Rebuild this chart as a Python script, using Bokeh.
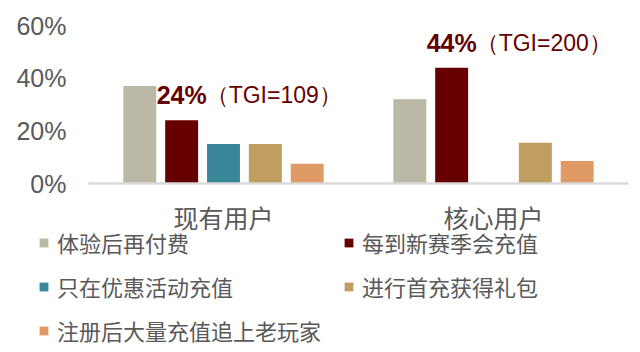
from bokeh.plotting import figure
from bokeh.models import (Range1d, ColumnDataSource, Legend, LegendItem,
                          NumeralTickFormatter, FixedTicker)
from bokeh.core.properties import value
from bokeh.embed import file_html
from bokeh.resources import INLINE

# ---- data ----
groups = ["现有用户", "核心用户"]
series_names = ["体验后再付费", "每到新赛季会充值", "只在优惠活动充值",
                "进行首充获得礼包", "注册后大量充值追上老玩家"]
pay_after_trial = [0.37, 0.32]
new_season = [0.24, 0.44]
promo_only = [0.15, float("nan")]
first_charge_gift = [0.15, 0.155]
big_charge = [0.075, 0.085]
tgi = [109, 200]
y_ticks = [0, 0.2, 0.4, 0.6]

colors = ["#bbb9a5", "#660000", "#3a879a", "#bf9e5f", "#e09a65"]
series_values = [pay_after_trial, new_season, promo_only, first_charge_gift, big_charge]

# group centres on a numeric axis (one unit per group)
gx = [i + 0.5 for i in range(len(groups))]
offsets = [-0.31, -0.155, 0.0, 0.155, 0.31]

W, H = 640, 352
px_per_x = 270.0          # pixels per group
x0_px = 88.0              # pixel where x = 0
px_per_y = 158.0 / 0.6    # pixels per unit of share
y0_px = 183.0             # pixel (from top) where y = 0

p = figure(width=W, height=H, output_backend="svg", toolbar_location=None,
           x_range=Range1d(-x0_px / px_per_x, (W - x0_px) / px_per_x),
           y_range=Range1d(-(H - y0_px) / px_per_y, y0_px / px_per_y),
           min_border_left=0, min_border_right=0, min_border_top=0, min_border_bottom=0)

renderers = []
for vals, off, col in zip(series_values, offsets, colors):
    src = ColumnDataSource(data=dict(x=[g + off for g in gx], top=vals))
    r = p.vbar(x="x", top="top", width=0.122, source=src, fill_color=col, line_color=None)
    renderers.append(r)

# annotations above the "每到新赛季会充值" bars
ann = ColumnDataSource(data=dict(
    x=[g + offsets[1] for g in gx], y=new_season,
    pct=[f"{v:.0%}" for v in new_season],
    tgi_txt=[f"（TGI={t}）" for t in tgi],
))
p.text(x="x", y="y", text="pct", source=ann,
       text_font=value("Liberation Sans"), text_font_style="bold", text_font_size="25px",
       text_color="#660000", text_align="center", text_baseline="middle", y_offset=-25)
p.text(x="x", y="y", text="tgi_txt", source=ann,
       text_font=value("Liberation Sans"), text_font_size="23px",
       text_color="#660000", text_align="left", text_baseline="middle",
       x_offset=24, y_offset=-25)

# axes (placed at data locations so the frame can fill the canvas)
p.xgrid.grid_line_color = None
p.ygrid.grid_line_color = None
p.outline_line_color = None

xa = p.xaxis[0]
xa.fixed_location = 0
xa.bounds = (0, len(groups))
xa.ticker = FixedTicker(ticks=gx)
xa.major_label_overrides = {g: name for g, name in zip(gx, groups)}
xa.axis_line_color = "#d9d9d9"
xa.axis_line_width = 2.5
xa.major_tick_line_color = None
xa.minor_tick_line_color = None
xa.major_label_text_font = "Noto Sans CJK SC"
xa.major_label_text_font_size = "25px"
xa.major_label_text_color = "#595959"
xa.major_label_standoff = 9

ya = p.yaxis[0]
ya.fixed_location = 0
ya.bounds = (0, 0.6)
ya.ticker = FixedTicker(ticks=y_ticks)
ya.formatter = NumeralTickFormatter(format="0%")
ya.axis_line_color = None
ya.major_tick_line_color = None
ya.minor_tick_line_color = None
ya.major_tick_out = 0
ya.major_label_text_font = "Liberation Sans"
ya.major_label_text_font_size = "25px"
ya.major_label_text_color = "#595959"
ya.major_label_standoff = 22

def make_legend(idx, loc):
    lg = Legend(items=[LegendItem(label=series_names[i], renderers=[renderers[i]]) for i in idx],
                location=loc, orientation="vertical")
    lg.label_text_font = "Noto Sans CJK SC"
    lg.label_text_font_size = "22px"
    lg.label_text_color = "#595959"
    lg.glyph_width = 11
    lg.glyph_height = 11
    lg.label_height = 26
    lg.label_standoff = 8
    lg.spacing = 12
    lg.padding = 0
    lg.margin = 0
    lg.border_line_color = None
    lg.background_fill_alpha = 0
    return lg

p.add_layout(make_legend([0, 2, 4], (38, 6)))
p.add_layout(make_legend([1, 3], (343, 50)))

open("out.html", "w").write(file_html(p, INLINE))
